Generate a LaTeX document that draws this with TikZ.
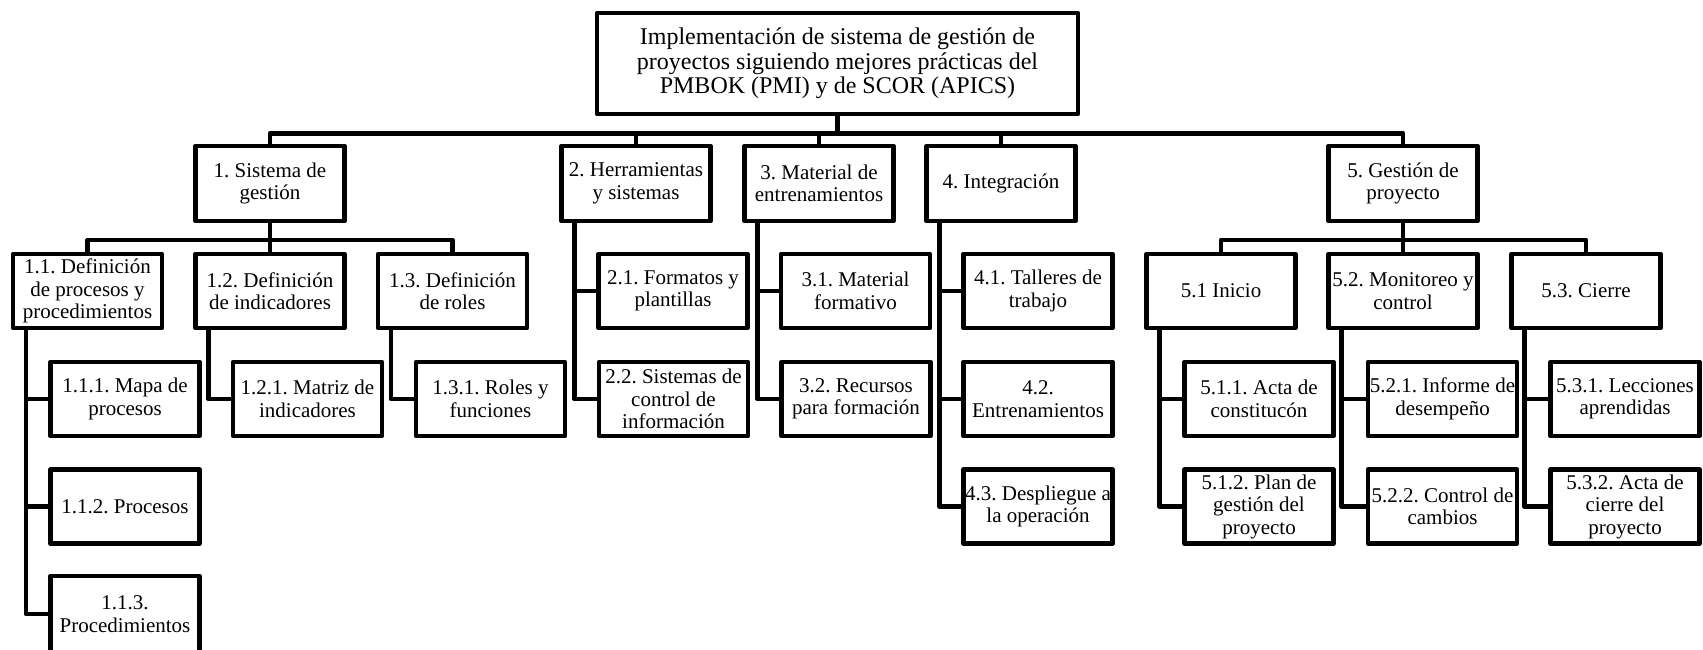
\documentclass[tikz,border=0pt]{standalone}
\usepackage{fontspec}
\setmainfont{Liberation Serif}
\frenchspacing
\begin{document}
\begin{tikzpicture}[x=1pt,y=-1pt,
  every node/.style={font=\fontsize{21}{22.5}\selectfont},
  box/.style={draw, line width=4.5pt, line join=round, minimum width=149pt,
    inner sep=1pt, align=center, minimum height=74pt},
  topbox/.style={box, minimum width=481pt, minimum height=101pt,
    font=\fontsize{24}{24.5}\selectfont},
  link/.style={line width=4.5pt, line join=round}]
\clip (0,0) rectangle (1703,649);
\fill[white] (0,0) rectangle (1703,649);

% root
\node[topbox] (root) at (837.5,63.5)
  {Implementación de sistema de gestión de\\proyectos siguiendo mejores prácticas del\\PMBOK (PMI) y de SCOR (APICS)};

% level 1
\node[box, minimum height=75pt] (n1) at (270,183.5) {1. Sistema de\\gestión};
\node[box, minimum height=75pt] (n2) at (636,183.5) {2. Herramientas\\y sistemas};
\node[box, minimum height=75pt] (n3) at (819,183.5) {3. Material de\\entrenamientos};
\node[box, minimum height=75pt] (n4) at (1001,183.5) {4. Integración};
\node[box, minimum height=75pt] (n5) at (1403,183.5) {5. Gestión de\\proyecto};

% level 2
\node[box] (n11) at (87.5,291) {1.1. Definición\\de procesos y\\procedimientos};
\node[box] (n12) at (270,291) {1.2. Definición\\de indicadores};
\node[box] (n13) at (452.5,291) {1.3. Definición\\de roles};
\node[box] (n21) at (673,291) {2.1. Formatos y\\plantillas};
\node[box] (n31) at (855.5,291) {3.1. Material\\formativo};
\node[box] (n41) at (1038,291) {4.1. Talleres de\\trabajo};
\node[box] (n51) at (1221,291) {5.1 Inicio};
\node[box] (n52) at (1403,291) {5.2. Monitoreo y\\control};
\node[box] (n53) at (1586,291) {5.3. Cierre};

% level 3, first row
\node[box] (n111) at (125,399) {1.1.1. Mapa de\\procesos};
\node[box] (n121) at (307.5,399) {1.2.1. Matriz de\\indicadores};
\node[box] (n131) at (490.5,399) {1.3.1. Roles y\\funciones};
\node[box] (n22) at (673.5,399) {2.2. Sistemas de\\control de\\información};
\node[box] (n32) at (856,399) {3.2. Recursos\\para formación};
\node[box] (n42) at (1038,399) {4.2.\\Entrenamientos};
\node[box] (n511) at (1259,399) {5.1.1. Acta de\\constitucón};
\node[box] (n521) at (1442.5,399) {5.2.1. Informe de\\desempeño};
\node[box] (n531) at (1625,399) {5.3.1. Lecciones\\aprendidas};

% level 3, second row
\node[box] (n112) at (125,506.5) {1.1.2. Procesos};
\node[box] (n43) at (1038,506.5) {4.3. Despliegue a\\la operación};
\node[box] (n512) at (1259,506.5) {5.1.2. Plan de\\gestión del\\proyecto};
\node[box] (n522) at (1442.5,506.5) {5.2.2. Control de\\cambios};
\node[box] (n532) at (1625,506.5) {5.3.2. Acta de\\cierre del\\proyecto};

% level 3, third row
\node[box, minimum height=76pt] (n113) at (125,614) {1.1.3.\\Procedimientos};

% root to level 1
\coordinate (bar0) at ([yshift=-17pt]root.south);
\draw[link] (root.south) -- (bar0);
\foreach \c in {n1,n2,n3,n4,n5}
  \draw[link] (\c.north) |- (bar0);

% tree bars below 1 and 5
\foreach \p/\cs in {n1/{n11,n12,n13}, n5/{n51,n52,n53}} {
  \draw[link] (\p.south) -- ([yshift=-16.5pt]\p.south);
  \foreach \c in \cs
    \draw[link] (\c.north) |- ([yshift=-16.5pt]\p.south);
}

% side trunks
\foreach \p/\c in {n2/n21, n2/n22, n3/n31, n3/n32, n4/n41, n4/n42, n4/n43,
    n11/n111, n11/n112, n11/n113, n12/n121, n13/n131,
    n51/n511, n51/n512, n52/n521, n52/n522, n53/n531, n53/n532}
  \draw[link] ([xshift=15pt]\p.south west) |- (\c.west);
\end{tikzpicture}
\end{document}
